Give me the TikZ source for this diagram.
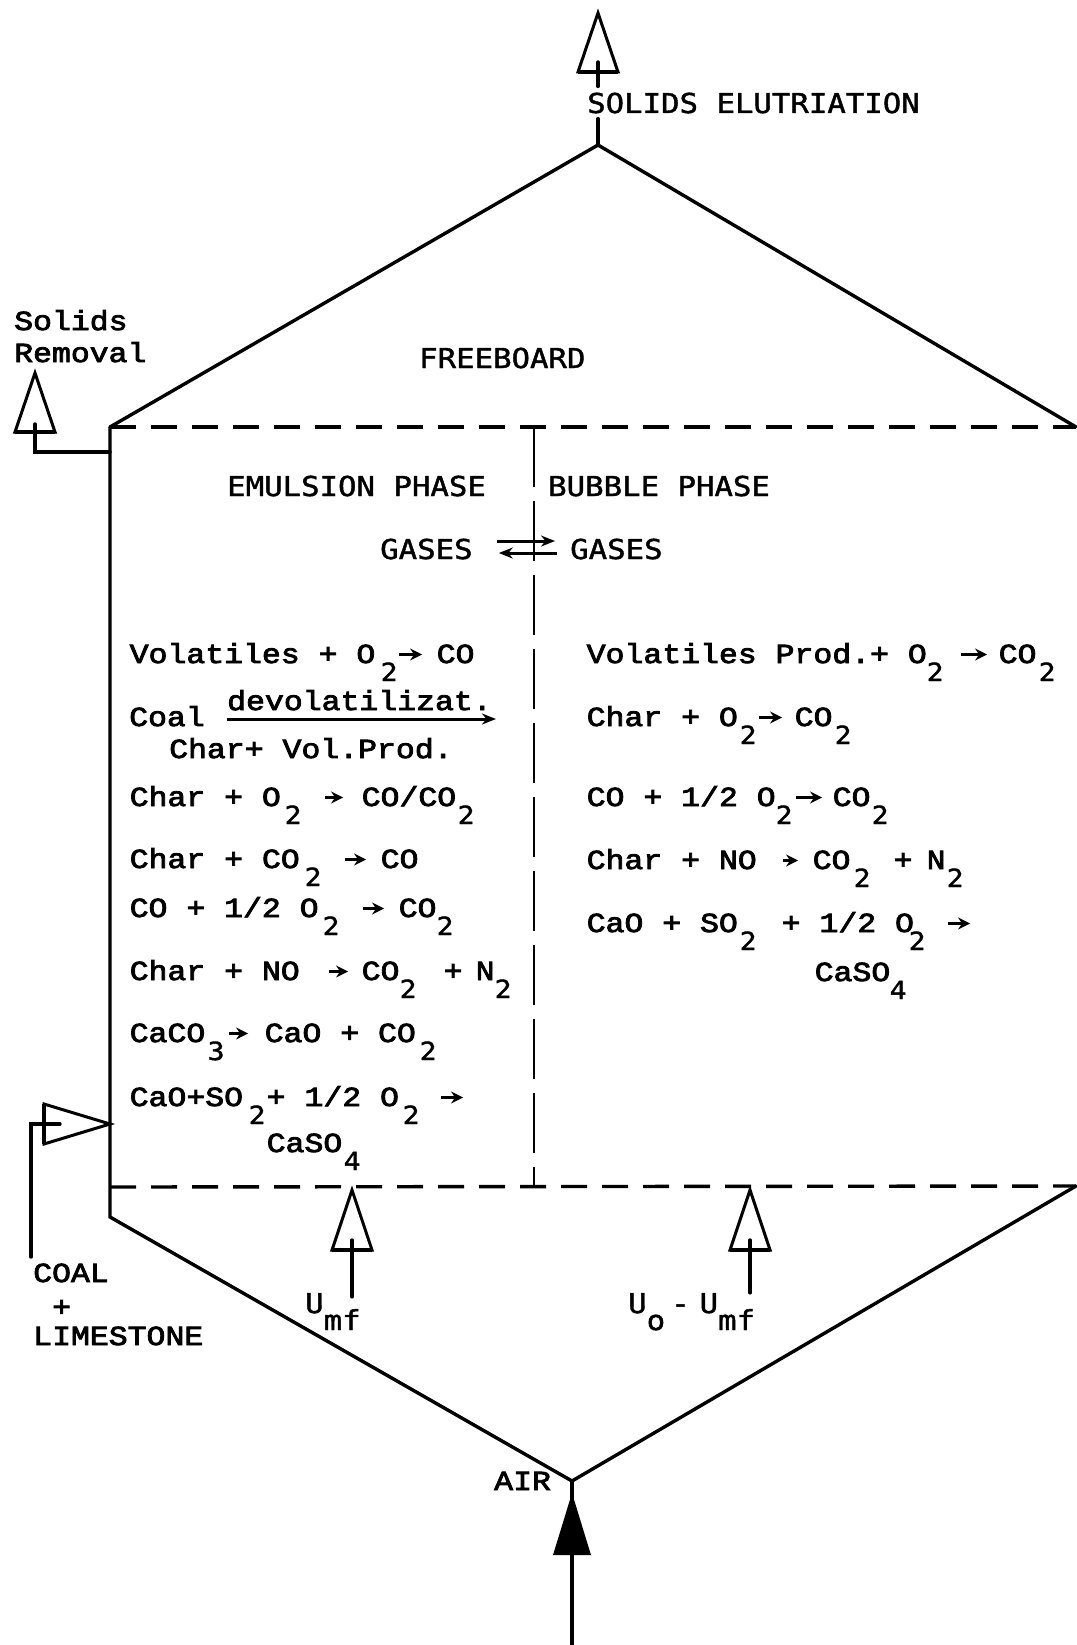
\documentclass[tikz,border=0pt]{standalone}
\usepackage{fontspec}
\usetikzlibrary{arrows.meta}
\newfontfamily\cour[FakeStretch=1.145,FakeBold=3]{Liberation Mono}
\newfontfamily\lgot[FakeStretch=1.12,FakeBold=1.5]{DejaVu Sans Mono}
\newcommand\putx[2]{\makebox[0pt][l]{\hspace*{#1pt}#2}}
\newcommand\subx[2]{\putx{#1}{\raisebox{-18pt}{\lgot\fontsize{25}{28}\selectfont #2}}}
\newcommand\rarr[2]{\putx{#1}{\tikz[baseline=0pt]\draw[line width=2.8pt,-{Stealth[length=12pt,width=12pt]}] (0pt,8.5pt) -- (#2pt,8.5pt);}}
\begin{document}
\begin{tikzpicture}[x=1pt,y=-1pt,
  wall/.style={line width=3.4pt, line cap=round, line join=miter},
  dline/.style={line width=3.4pt, dash pattern=on 26pt off 15pt},
  vline/.style={line width=2.8pt, dash pattern=on 60pt off 14pt},
  openarrow/.style={line width=3pt, line join=miter},
  basebar/.style={line width=4.5pt},
  xarr/.style={line width=3pt,-{Stealth[length=14pt,width=11pt]}},
  lbl/.style={anchor=base west, inner sep=0pt, font={\lgot\fontsize{27.4}{32}\selectfont}},
  cl/.style={anchor=base west, inner sep=0pt, font={\cour\fontsize{27.5}{32}\selectfont}},
  rx/.style={cl},
]
\useasboundingbox[fill=white] (0,0) rectangle (1076,1645);

% vessel
\coordinate (apexT) at (598,145);
\coordinate (TL) at (110,427);
\coordinate (TR) at (1076,427);
\coordinate (BLd) at (110,1187);
\coordinate (BR) at (1076,1186);
\coordinate (BL) at (110,1217);
\coordinate (apexB) at (572,1481);
\coordinate (divT) at (534,427);
\coordinate (divB) at (534,1187);

\draw[wall] (TL) -- (apexT) -- (TR);
\draw[dline] (TL) -- (TR);
\draw[wall] (TL) -- (BL) -- (apexB) -- (BR);
\draw[dline] (BLd) -- (BR);
\draw[vline] (divT) -- (divB);

% solids elutriation
\node[lbl] (elut) at (587,113) {SOLIDS ELUTRIATION};
\coordinate (elTip) at (598,13);
\coordinate (elB1) at (618,72);
\coordinate (elB2) at (578,72);
\coordinate (elS) at (598,62);
\draw[openarrow] (elTip) -- (elB1) -- (elB2) -- cycle;
\draw[basebar] (elB1) -- (elB2);
\draw[wall] (elS) -- ([yshift=6pt]elut.north -| elS);
\draw[wall] ([yshift=-5pt]elut.south -| elS) -- (apexT);

% solids removal
\node[cl] (sol) at (14,330) {Solids};
\node[cl] (rem) at (14,362) {Removal};
\coordinate (srTip) at (35,373);
\coordinate (srB1) at (55,432);
\coordinate (srB2) at (15,432);
\coordinate (srS) at (35,424);
\coordinate (srK) at (35,452);
\coordinate (srW) at (110,452);
\draw[openarrow] (srTip) -- (srB1) -- (srB2) -- cycle;
\draw[basebar] (srB1) -- (srB2);
\draw[wall] (srS) -- (srK) -- (srW);

% freeboard and phases
\node[lbl] (fb) at (419,368) {FREEBOARD};
\node[lbl] (emu) at (227,496) {EMULSION PHASE};
\node[lbl] (bub) at (548,496) {BUBBLE PHASE};
\node[lbl] (gasL) at (380,559) {GASES};
\node[lbl] (gasR) at (570,559) {GASES};
\draw[xarr] ([xshift=24pt,yshift=8pt]gasL.east) -- ([xshift=-15pt,yshift=8pt]gasR.west);
\draw[xarr] ([xshift=-13pt,yshift=-4pt]gasR.west) -- ([xshift=26pt,yshift=-4pt]gasL.east);

% emulsion phase reactions
\node[rx] (r1) at (129,663) {\putx{0}{Volatiles + O}\subx{251}{2}\rarr{268}{23}\putx{307}{CO}};
\node[rx] (r2a) at (129,726) {Coal};
\node[rx] (devol) at (227,710) {devolatilizat.};
\draw[xarr] ([yshift=-9pt]devol.base west) -- ([xshift=4pt,yshift=-9pt]devol.base east);
\node[rx] (r2b) at (169,758) {Char+ Vol.Prod.};
\node[rx] (r3) at (129,806) {\putx{0}{Char + O}\subx{155}{2}\rarr{194}{18}\putx{232}{CO/CO}\subx{328}{2}};
\node[rx] (r4) at (129,868) {\putx{0}{Char + CO}\subx{175}{2}\rarr{214}{21}\putx{251}{CO}};
\node[rx] (r5) at (129,917) {\putx{0}{CO + 1/2 O}\subx{193}{2}\rarr{232}{21}\putx{269}{CO}\subx{307}{2}};
\node[rx] (r6) at (129,980) {\putx{0}{Char + NO}\rarr{198}{19}\putx{232}{CO}\subx{270}{2}\putx{314}{+}\putx{346}{N}\subx{365}{2}};
\node[rx] (r7) at (129,1042) {\putx{0}{CaCO}\subx{78}{3}\rarr{98}{19}\putx{135}{CaO + CO}\subx{290}{2}};
\node[rx] (r8) at (129,1106) {\putx{0}{CaO+SO}\subx{119}{2}\putx{137}{+ 1/2 O}\subx{273}{2}\rarr{310}{22}};
\node[rx] (r9) at (266,1152) {\putx{0}{CaSO}\subx{77}{4}};

% bubble phase reactions
\node[rx] (b1) at (586,663) {\putx{0}{Volatiles Prod.+ O}\subx{340}{2}\rarr{373}{26}\putx{412}{CO}\subx{452}{2}};
\node[rx] (b2) at (586,726) {\putx{0}{Char + O}\subx{153}{2}\rarr{171}{23}\putx{208}{CO}\subx{248}{2}};
\node[rx] (b3) at (586,806) {\putx{0}{CO + 1/2 O}\subx{189}{2}\rarr{208}{26}\putx{246}{CO}\subx{285}{2}};
\node[rx] (b4) at (586,869) {\putx{0}{Char + NO}\rarr{195}{15}\putx{226}{CO}\subx{267}{2}\putx{307}{+}\putx{340}{N}\subx{360}{2}};
\node[rx] (b5) at (586,932) {\putx{0}{CaO + SO}\subx{153}{2}\putx{195}{+ 1/2 O}\subx{322}{2}\rarr{360}{22}};
\node[rx] (b6) at (814,981) {\putx{0}{CaSO}\subx{75}{4}};

% coal + limestone feed
\node[cl] (coal) at (33,1282) {COAL};
\node[cl] (plus) at (52,1316) {+};
\node[cl] (lime) at (33,1345) {LIMESTONE};
\coordinate (cfTip) at (110,1124);
\coordinate (cfB1) at (44,1104);
\coordinate (cfB2) at (44,1144);
\coordinate (cfS) at (31,1257);
\coordinate (cfK) at (31,1124);
\coordinate (cfE) at (60,1124);
\draw[openarrow] (cfTip) -- (cfB1) -- (cfB2) -- cycle;
\draw[basebar] (cfB1) -- (cfB2);
\draw[wall] (cfS) -- (cfK) -- (cfE);

% Umf arrows
\node[lbl] (umf) at (305,1313) {U\raisebox{-17pt}{mf}};
\coordinate (u1Tip) at (352,1190);
\coordinate (u1B1) at (372,1250);
\coordinate (u1B2) at (332,1250);
\coordinate (u1S) at (352,1240);
\draw[openarrow] (u1Tip) -- (u1B1) -- (u1B2) -- cycle;
\draw[basebar] (u1B1) -- (u1B2);
\draw[wall] (u1S) -- ([yshift=-4pt]umf.north -| u1S);

\node[lbl] (uomf) at (628,1313) {U\raisebox{-17pt}{o}\hspace{6pt}-\hspace{10pt}U\raisebox{-17pt}{mf}};
\coordinate (u2Tip) at (750,1190);
\coordinate (u2B1) at (770,1250);
\coordinate (u2B2) at (730,1250);
\coordinate (u2S) at (750,1240);
\draw[openarrow] (u2Tip) -- (u2B1) -- (u2B2) -- cycle;
\draw[basebar] (u2B1) -- (u2B2);
\draw[wall] (u2S) -- (uomf.north -| u2S);

% air
\node[cl] (air) at (494,1490) {AIR};
\coordinate (aTip) at (572,1493);
\coordinate (aB1) at (591,1555);
\coordinate (aB2) at (553,1555);
\coordinate (aEnd) at (572,1645);
\fill (aTip) -- (aB1) -- (aB2) -- cycle;
\draw[wall] (apexB) -- (aEnd);
\end{tikzpicture}
\end{document}
